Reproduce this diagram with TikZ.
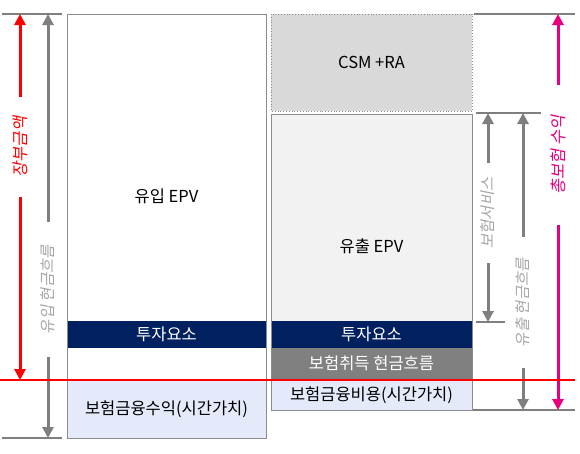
\documentclass[tikz,border=0pt]{standalone}
\usepackage{fontspec}
\setmainfont{Noto Sans CJK KR}
\newfontfamily\slantfont[FakeSlant=0.2]{Noto Sans CJK KR}
\usetikzlibrary{arrows.meta}

\definecolor{navy}{HTML}{002060}
\definecolor{lineg}{HTML}{7F7F7F}
\definecolor{boxg}{HTML}{8C8C8C}
\definecolor{labelg}{HTML}{A6A6A6}
\definecolor{csmfill}{HTML}{D9D9D9}
\definecolor{epvfill}{HTML}{F2F2F2}
\definecolor{acqfill}{HTML}{808080}
\definecolor{finfill}{HTML}{E4EAF9}
\definecolor{magent}{HTML}{E6007E}

\tikzset{
  panel/.style={draw=boxg, line width=1pt},
  band/.style={inner sep=0pt, font=\fontsize{16.5}{18}\selectfont},
  tick/.style={draw=lineg, line width=2.2pt},
  arr/.style={line width=3pt, -{Triangle[length=11pt,width=11pt]}},
  vlabel/.style={rotate=90, inner sep=0pt, font=\slantfont\fontsize{15.5}{17}\selectfont},
}

\begin{document}
\begin{tikzpicture}[x=1pt,y=-1pt]
\useasboundingbox (0,0) rectangle (580,453);

% ---- inflow column ----
\draw[panel, fill=white] (67,14) rectangle (266,438);
\fill[navy] (67,321) rectangle (266,348);
\fill[finfill] (67,380) rectangle (266,438);
\draw[panel] (67,14) rectangle (266,438);
\node[band] (inEPV) at (166.5,196) {유입 EPV};
\node[band, text=white] (inInv) at (166.5,334.5) {투자요소};
\node[band] (inFin) at (166.5,409) {보험금융수익(시간가치)};

% ---- outflow column ----
\draw[draw=boxg, line width=0.8pt, dotted, fill=csmfill] (271,14) rectangle (472,111);
\node[band] (csm) at (371.5,62.5) {CSM +RA};
\fill[epvfill] (271,114) rectangle (472,410);
\fill[navy] (271,321) rectangle (472,348);
\fill[acqfill] (271,348) rectangle (472,379);
\fill[finfill] (271,380) rectangle (472,410);
\draw[panel] (271,114) rectangle (472,410);
\node[band] (outEPV) at (371.5,246) {유출 EPV};
\node[band, text=white] (outInv) at (371.5,334.5) {투자요소};
\node[band, text=white] (acq) at (371.5,363.5) {보험취득 현금흐름};
\node[band] (outFin) at (371.5,395) {보험금융비용(시간가치)};

% ---- left measures ----
\coordinate (LtopA) at (2,14);   \coordinate (LtopB) at (62,14);
\coordinate (LbotA) at (2,438);  \coordinate (LbotB) at (62,438);
\draw[tick] (LtopA) -- (LtopB);
\draw[tick] (LbotA) -- (LbotB);

\node[vlabel, text=red, minimum width=100pt, font=\slantfont\fontsize{16.5}{18}\selectfont] (carry) at (20,147) {장부금액};
\coordinate (carryTop) at (20,14);
\coordinate (carryBot) at (20,380);
\draw[arr, red] (carry.east) -- (carryTop);
\draw[arr, red] (carry.west) -- (carryBot);

\node[vlabel, text=labelg, minimum width=135pt] (inflow) at (48,289.5) {유입 현금흐름};
\coordinate (inTop) at (48,14);
\coordinate (inBot) at (48,438);
\draw[arr, lineg] (inflow.east) -- (inTop);
\draw[arr, lineg] (inflow.west) -- (inBot);

% ---- right measures ----
\coordinate (RtopA) at (474,14);  \coordinate (RtopB) at (575,14);
\coordinate (RsvcA) at (476,113); \coordinate (RsvcB) at (541,113);
\coordinate (RinvA) at (476,322); \coordinate (RinvB) at (505,322);
\coordinate (RbotA) at (473,410); \coordinate (RbotB) at (575,410);
\draw[tick] (RtopA) -- (RtopB);
\draw[tick] (RsvcA) -- (RsvcB);
\draw[line width=1.2pt, lineg] (RinvA) -- (RinvB);
\draw[tick] (RbotA) -- (RbotB);

\node[vlabel, text=labelg, minimum width=100pt] (svc) at (488,213) {보험서비스};
\coordinate (svcTop) at (488,113);
\coordinate (svcBot) at (488,322);
\draw[arr, lineg] (svc.east) -- (svcTop);
\draw[arr, lineg] (svc.west) -- (svcBot);

\node[vlabel, text=labelg, minimum width=131pt] (outflow) at (523,302.5) {유출 현금흐름};
\coordinate (outTop) at (523,113);
\coordinate (outBot) at (523,410);
\draw[arr, lineg] (outflow.east) -- (outTop);
\draw[arr, lineg] (outflow.west) -- (outBot);

\node[vlabel, text=magent, minimum width=140pt, font=\slantfont\fontsize{16.5}{18}\selectfont] (rev) at (558,155) {총보험 수익};
\coordinate (revTop) at (558,14);
\coordinate (revBot) at (558,410);
\draw[arr, magent] (rev.east) -- (revTop);
\draw[arr, magent] (rev.west) -- (revBot);

% ---- boundary line ----
\coordinate (redL) at (0,380);
\coordinate (redR) at (575,380);
\draw[red, line width=1.8pt] (redL) -- (redR);
\end{tikzpicture}
\end{document}
